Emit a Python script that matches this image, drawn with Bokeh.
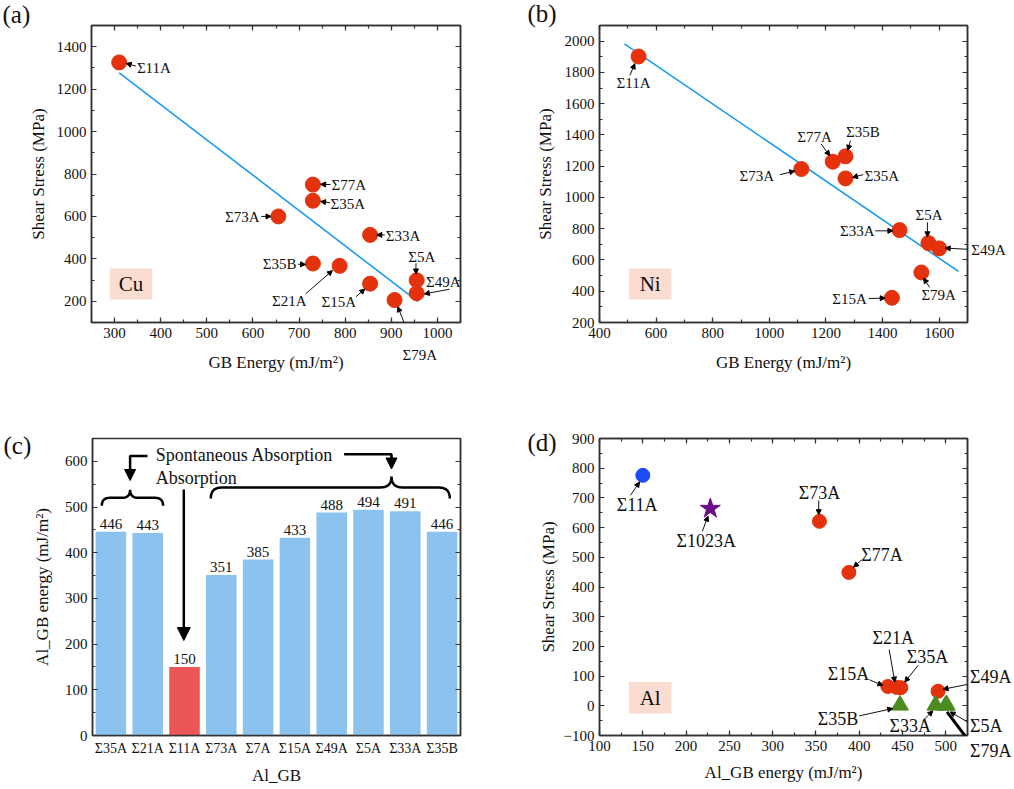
import numpy as np
from bokeh.plotting import figure
from bokeh.layouts import row, column
from bokeh.models import (Range1d, FactorRange, LinearAxis, SingleIntervalTicker,
                          Label, Arrow, NormalHead, BoxAnnotation)
from bokeh.core.properties import value
from bokeh.embed import file_html
from bokeh.resources import INLINE

# ---------------- data ----------------
# (a) Cu
cu_names = ["Σ11A", "Σ77A", "Σ35A", "Σ73A", "Σ33A", "Σ35B", "Σ21A", "Σ15A", "Σ5A", "Σ49A", "Σ79A"]
cu_energy = [310, 730, 730, 655, 854, 730, 788, 854, 955, 955, 907]
cu_stress = [1326, 750, 674, 600, 513, 378, 367, 283, 299, 238, 206]
cu_fit_energy = [310, 958]
cu_fit_stress = [1277, 198]

# (b) Ni
ni_names = ["Σ11A", "Σ73A", "Σ77A", "Σ35B", "Σ35A", "Σ33A", "Σ5A", "Σ49A", "Σ79A", "Σ15A"]
ni_energy = [538, 1113, 1224, 1269, 1269, 1460, 1562, 1600, 1537, 1433]
ni_stress = [1902, 1182, 1229, 1263, 1122, 791, 708, 674, 520, 358]
ni_fit_energy = [488, 1668]
ni_fit_stress = [1983, 527]

# (c) Al GB energy
al_gb = ["Σ35A", "Σ21A", "Σ11A", "Σ73A", "Σ7A", "Σ15A", "Σ49A", "Σ5A", "Σ33A", "Σ35B"]
al_gb_energy = [446, 443, 150, 351, 385, 433, 488, 494, 491, 446]
al_gb_kind = ["spont", "spont", "abs", "spont", "spont", "spont", "spont", "spont", "spont", "spont"]

# (d) Al shear stress
al_blue_names = ["Σ11A"]
al_blue_energy = [150]
al_blue_stress = [776]
al_star_names = ["Σ1023A"]
al_star_energy = [228]
al_star_stress = [664]
al_circle_names = ["Σ73A", "Σ77A", "Σ15A", "Σ21A", "Σ35A", "Σ49A"]
al_circle_energy = [354, 388, 433, 443, 448, 491]
al_circle_stress = [621, 449, 65, 62, 61, 49]
al_tri_names = ["Σ35B", "Σ33A", "Σ5A", "Σ79A"]
al_tri_energy = [447, 488, 500, 501]
al_tri_stress = [2, 2, 2, 2]

# ---------------- style ----------------
FONT = "Liberation Serif"
FRAME = "#333333"
RED = "#E4320C"
FIT = "#1A9AF0"
BAR_BLUE = "#8BC3EE"
BAR_RED = "#EC5656"
PEACH = "#FADDD0"
GREEN = "#4B8B1F"
BLUE = "#1F4BF5"
PURPLE = "#6B0E8A"

# label layout: name -> (text dx, text dy, align, arrow start dx, dy, arrow end dx, dy)  [screen px, y down]
off_a = {
    "Σ11A": (17.7, 5.3, "left", 16.7, 3.7, 7, 1),
    "Σ77A": (18.7, 0, "left", 17.7, 0, 7.7, -0.3),
    "Σ35A": (17.7, 3.7, "left", 17, 2, 7.7, 0.7),
    "Σ73A": (-18.7, 0.7, "right", -17, 0, -7.3, 0),
    "Σ33A": (15.7, 1, "left", 14.7, 0, 6.7, 0),
    "Σ35B": (-16.3, 0.7, "right", -14.7, 0.7, -7.3, 1),
    "Σ21A": (-33, 34.7, "right", -34, 28, -7.3, 4.7),
    "Σ15A": (-14, 18.7, "right", -14, 13, -5.3, 5.3),
    "Σ5A": (5, -23, "center", -0.7, -17, -0.7, -6.3),
    "Σ49A": (9.3, -11, "left", 32.7, -4, 7.7, 0.7),
    "Σ79A": (25.3, 55, "center", 19.3, 47.3, 3.3, 6.7),
}
off_b = {
    "Σ11A": (-5, 26.3, "center", -8.7, 19, -3.7, 7.3),
    "Σ73A": (-27.3, 7.3, "right", -21.3, 5.7, -6.7, 2),
    "Σ77A": (-18.3, -25, "center", -11.7, -17.7, -3, -6),
    "Σ35B": (17.3, -24.7, "center", 5, -15.7, 2.3, -6),
    "Σ35A": (19, -2.7, "left", 17.7, -3.7, 7, -1),
    "Σ33A": (-25, 0.7, "right", -24.3, 0.7, -6.7, 0.7),
    "Σ5A": (0.7, -28.3, "center", -1, -20.7, -1, -6.3),
    "Σ49A": (32, 1.7, "left", 31, 1, 6, -0.3),
    "Σ79A": (17.3, 23, "center", 8.3, 15, 2.3, 5.7),
    "Σ15A": (-25, 1.3, "right", -23.3, 0.7, -6.7, 0.3),
}
off_d = {
    "Σ11A": (-5.7, 29.3, "center", -12.3, 20, -3.3, 6.7),
    "Σ1023A": (-4, 32.7, "center", -8, 22.7, -2.3, 7.5),
    "Σ73A": (0, -28.7, "center", -0.7, -21, -0.7, -6.7),
    "Σ77A": (12.3, -17, "left", 13, -12.7, 4.7, -5.3),
    "Σ21A": (-3.3, -49.3, "center", -7.3, -37.7, -1.7, -5.3),
    "Σ35A": (26.7, -30.7, "center", 17.3, -22.3, 4, -5.7),
    "Σ15A": (-39.3, -12.7, "center", -18.3, -6.7, -5, -1),
    "Σ49A": (31.7, -10.7, "left", 31.7, -7.3, 5, -2),
    "Σ35B": (-41.7, 14, "right", -40.7, 10.7, -7.3, 3.3),
    "Σ33A": (-25.3, 20.7, "center", -12.7, 15.7, -2.7, 5.7),
    "Σ5A": (24.3, 20.7, "left", 22.7, 17.3, 4.3, 6.7),
    "Σ79A": (23.7, 44, "left", 20.3, 33.3, 0.3, 6.7),
}
# labels lying outside the plot frame are hosted by a side panel so they are not clipped
side_a = {"Σ79A": "below"}
side_b = {"Σ49A": "right"}
# in (d) the three labels right of the frame share one stacked text block
d_right_stack = ["Σ49A", "", "Σ5A", "Σ79A"]


def style_axis(ax, tick_size="15px", label_size="17px", standoff=6):
    ax.axis_line_color = FRAME
    ax.axis_line_width = 1.5
    ax.major_tick_in = 5
    ax.major_tick_out = 0
    ax.minor_tick_in = 3
    ax.minor_tick_out = 0
    ax.major_tick_line_color = FRAME
    ax.minor_tick_line_color = FRAME
    ax.major_tick_line_width = 1.2
    ax.minor_tick_line_width = 1.2
    ax.major_label_text_font = FONT
    ax.major_label_text_font_size = tick_size
    ax.major_label_text_color = "#111111"
    ax.axis_label_text_font = FONT
    ax.axis_label_text_font_style = "normal"
    ax.axis_label_text_font_size = label_size
    ax.axis_label_text_color = "#111111"
    ax.axis_label_standoff = standoff


def mirror(p, ticker, side):
    ax = LinearAxis(ticker=ticker)
    style_axis(ax)
    ax.major_label_text_font_size = "1px"
    ax.major_label_text_color = None
    ax.major_label_standoff = 0
    p.add_layout(ax, side)


def make_fig(xr, yr, fw, fh, borders, xtick, ytick, xlabel, ylabel, xstand, ystand):
    l, r, t, b = borders
    p = figure(x_range=Range1d(*xr), y_range=Range1d(*yr), frame_width=fw, frame_height=fh,
               min_border_left=l, min_border_right=r, min_border_top=t, min_border_bottom=b,
               output_backend="svg", toolbar_location=None)
    p.xgrid.visible = False
    p.ygrid.visible = False
    p.outline_line_color = FRAME
    p.outline_line_width = 1.5
    p.background_fill_color = "white"
    p.border_fill_color = "white"
    p.xaxis.ticker = SingleIntervalTicker(interval=xtick[0], num_minor_ticks=xtick[1])
    p.yaxis.ticker = SingleIntervalTicker(interval=ytick[0], num_minor_ticks=ytick[1])
    p.xaxis.axis_label = xlabel
    p.yaxis.axis_label = ylabel
    style_axis(p.xaxis[0], standoff=xstand)
    style_axis(p.yaxis[0], standoff=ystand)
    mirror(p, SingleIntervalTicker(interval=xtick[0], num_minor_ticks=xtick[1]), "above")
    mirror(p, SingleIntervalTicker(interval=ytick[0], num_minor_ticks=ytick[1]), "right")
    return p


class Frame:
    def __init__(self, xr, yr, fw, fh):
        self.xr, self.yr, self.fw, self.fh = xr, yr, fw, fh

    def X(self, px):
        return self.xr[0] + px * (self.xr[1] - self.xr[0]) / self.fw

    def Y(self, py):
        return self.yr[1] - py * (self.yr[1] - self.yr[0]) / self.fh

    def dx(self, d):
        return d * (self.xr[1] - self.xr[0]) / self.fw

    def dy(self, d):
        return -d * (self.yr[1] - self.yr[0]) / self.fh


def put(p, obj, side=None):
    if side is None:
        p.add_layout(obj)
    else:
        p.add_layout(obj, side)


def annotate(p, fr, names, xs, ys, offs, size, sides=None, thick=(), skip=()):
    sides = sides or {}
    for n, x, y in zip(names, xs, ys):
        tdx, tdy, al, a0x, a0y, a1x, a1y = offs[n]
        if n not in skip:
            put(p, Label(x=x + fr.dx(tdx), y=y + fr.dy(tdy), text=n, text_align=al,
                         text_baseline="middle", text_font=FONT, text_font_size=size,
                         text_color="#111111"), sides.get(n))
        if n in thick:
            p.add_layout(Arrow(end=None, x_start=x + fr.dx(a1x), y_start=y + fr.dy(a1y),
                               x_end=x + fr.dx(a0x), y_end=y + fr.dy(a0y),
                               line_width=3, line_color="black"))
        else:
            p.add_layout(Arrow(end=NormalHead(size=5, fill_color="black", line_color="black", line_width=1),
                               x_start=x + fr.dx(a0x), y_start=y + fr.dy(a0y),
                               x_end=x + fr.dx(a1x), y_end=y + fr.dy(a1y),
                               line_width=1, line_color="#111111"))


def tag_box(p, fr, box, text):
    x0, x1, y0, y1 = box
    p.add_layout(BoxAnnotation(left=fr.X(x0), right=fr.X(x1), top=fr.Y(y0), bottom=fr.Y(y1),
                               fill_color=PEACH, fill_alpha=1, line_alpha=0, level="underlay"))
    p.add_layout(Label(x=fr.X((x0 + x1) / 2), y=fr.Y((y0 + y1) / 2), text=text, text_align="center",
                       text_baseline="middle", text_font=FONT, text_font_size="21px", text_color="#111111"))


def panel_letter(p, fr, px, py, text, side):
    put(p, Label(x=fr.X(px), y=fr.Y(py), text=text, text_align="left", text_baseline="middle",
                 text_font=FONT, text_font_size="25px", text_color="#111111"), side)


# ---------------- (a) Cu ----------------
xr_a, yr_a, fw_a, fh_a = (250, 1050), (100, 1500), 369, 297
fa = Frame(xr_a, yr_a, fw_a, fh_a)
pa = make_fig(xr_a, yr_a, fw_a, fh_a, (91, 43, 25, 78), (100, 2), (200, 2),
              "GB Energy (mJ/m²)", "Shear Stress (MPa)", 12, 6)
tag_box(pa, fa, (18.3, 60.7, 243, 274), "Cu")
pa.line(cu_fit_energy, cu_fit_stress, line_color=FIT, line_width=1.6)
pa.scatter(cu_energy, cu_stress, size=15, fill_color=RED, line_color=RED, marker="circle")
annotate(pa, fa, cu_names, cu_energy, cu_stress, off_a, "15px", side_a)
panel_letter(pa, fa, -89, -11, "(a)", "right")

# ---------------- (b) Ni ----------------
xr_b, yr_b, fw_b, fh_b = (400, 1700), (200, 2100), 368, 297
fb = Frame(xr_b, yr_b, fw_b, fh_b)
pb = make_fig(xr_b, yr_b, fw_b, fh_b, (96, 44, 25, 78), (200, 2), (200, 2),
              "GB Energy (mJ/m²)", "Shear Stress (MPa)", 12, 7)
tag_box(pb, fb, (29.3, 72, 243, 274), "Ni")
pb.line(ni_fit_energy, ni_fit_stress, line_color=FIT, line_width=1.6)
pb.scatter(ni_energy, ni_stress, size=15, fill_color=RED, line_color=RED, marker="circle")
annotate(pb, fb, ni_names, ni_energy, ni_stress, off_b, "15px", side_b)
panel_letter(pb, fb, -72, -12, "(b)", "left")

# ---------------- (c) Al GB energy bars ----------------
fw_c, fh_c = 368, 297
yr_c = (0, 650)
fc = Frame((0, len(al_gb)), yr_c, fw_c, fh_c)
pc = figure(x_range=FactorRange(factors=al_gb, range_padding=0), y_range=Range1d(*yr_c),
            frame_width=fw_c, frame_height=fh_c,
            min_border_left=92, min_border_right=47, min_border_top=38, min_border_bottom=52,
            output_backend="svg", toolbar_location=None)
pc.xgrid.visible = False
pc.ygrid.visible = False
pc.outline_line_color = FRAME
pc.outline_line_width = 1.5
pc.yaxis.ticker = SingleIntervalTicker(interval=100, num_minor_ticks=2)
pc.yaxis.axis_label = "Al_GB energy (mJ/m²)"
pc.xaxis.axis_label = "Al_GB"
style_axis(pc.yaxis[0], standoff=10)
style_axis(pc.xaxis[0], tick_size="14px", standoff=7)
pc.xaxis[0].major_tick_in = 0
pc.xaxis[0].minor_tick_in = 0
mirror(pc, SingleIntervalTicker(interval=100, num_minor_ticks=2), "right")
bar_colors = [BAR_RED if k == "abs" else BAR_BLUE for k in al_gb_kind]
pc.vbar(x=al_gb, top=al_gb_energy, width=0.83, fill_color=bar_colors, line_color=None)
pc.text(x=al_gb, y=al_gb_energy, text=[str(v) for v in al_gb_energy], text_font=value(FONT),
        text_font_size="15px", text_align="center", text_baseline="bottom", y_offset=-3,
        text_color="#111111")


def brace(x0, x1, xm, yl, h):
    def qb(p0, p1, p2, n=10):
        t = np.linspace(0, 1, n)[:, None]
        return (1 - t) ** 2 * np.array(p0) + 2 * (1 - t) * t * np.array(p1) + t ** 2 * np.array(p2)
    return np.vstack([
        qb((x0, yl + h), (x0, yl), (x0 + h, yl)),
        qb((xm - h, yl), (xm, yl), (xm, yl - h)),
        qb((xm, yl - h), (xm, yl), (xm + h, yl)),
        qb((x1 - h, yl), (x1, yl), (x1, yl + h)),
    ])


for (bx0, bx1, bxm, byl, bh) in [(9.3, 70.6, 37.6, 59.3, 8), (118.3, 357.3, 299, 49, 11)]:
    pts = brace(bx0, bx1, bxm, byl, bh)
    pc.line([fc.X(v) for v in pts[:, 0]], [fc.Y(v) for v in pts[:, 1]], line_color="black", line_width=2.5)

pc.line([fc.X(55), fc.X(37.6), fc.X(37.6)], [fc.Y(17.4), fc.Y(17.4), fc.Y(32)], line_color="black", line_width=2.5)
pc.add_layout(Arrow(end=NormalHead(size=11, fill_color="black", line_color="black"),
                    x_start=fc.X(37.6), y_start=fc.Y(30), x_end=fc.X(37.6), y_end=fc.Y(42),
                    line_width=2.5, line_color="black"))
pc.line([fc.X(251.6), fc.X(299), fc.X(299)], [fc.Y(15.7), fc.Y(15.7), fc.Y(20)], line_color="black", line_width=2.5)
pc.add_layout(Arrow(end=NormalHead(size=11, fill_color="black", line_color="black"),
                    x_start=fc.X(299), y_start=fc.Y(18), x_end=fc.X(299), y_end=fc.Y(30.5),
                    line_width=2.5, line_color="black"))
pc.add_layout(Arrow(end=NormalHead(size=13, fill_color="black", line_color="black"),
                    x_start=fc.X(91.3), y_start=fc.Y(51), x_end=fc.X(91.3), y_end=fc.Y(202),
                    line_width=2.5, line_color="black"))
pc.add_layout(Label(x=fc.X(63.3), y=fc.Y(16.7), text="Spontaneous Absorption", text_align="left",
                    text_baseline="middle", text_font=FONT, text_font_size="18px", text_color="#111111"))
pc.add_layout(Label(x=fc.X(63.3), y=fc.Y(39), text="Absorption", text_align="left",
                    text_baseline="middle", text_font=FONT, text_font_size="18px", text_color="#111111"))
panel_letter(pc, fc, -89, 6.7, "(c)", "right")

# ---------------- (d) Al shear stress ----------------
xr_d, yr_d, fw_d, fh_d = (100, 525), (-100, 900), 368, 297
fd = Frame(xr_d, yr_d, fw_d, fh_d)
pd_ = make_fig(xr_d, yr_d, fw_d, fh_d, (92, 46, 38, 52), (50, 2), (100, 2),
               "Al_GB energy (mJ/m²)", "Shear Stress (MPa)", 9, 3)
tag_box(pd_, fd, (29.3, 72, 243.4, 275), "Al")
pd_.scatter(al_blue_energy, al_blue_stress, size=14, fill_color=BLUE, line_color=BLUE, marker="circle")
pd_.scatter(al_star_energy, al_star_stress, size=21, fill_color=PURPLE, line_color=PURPLE, marker="star")
pd_.scatter(al_circle_energy, al_circle_stress, size=14, fill_color=RED, line_color=RED, marker="circle")
pd_.scatter(al_tri_energy, al_tri_stress, size=17, fill_color=GREEN, line_color=GREEN, marker="triangle")
annotate(pd_, fd, al_blue_names, al_blue_energy, al_blue_stress, off_d, "18px")
annotate(pd_, fd, al_star_names, al_star_energy, al_star_stress, off_d, "18px")
annotate(pd_, fd, al_circle_names, al_circle_energy, al_circle_stress, off_d, "18px", skip=d_right_stack)
annotate(pd_, fd, al_tri_names, al_tri_energy, al_tri_stress, off_d, "18px", thick=("Σ79A",), skip=d_right_stack)
pd_.add_layout(Label(x=fd.X(370.5), y=fd.Y(275.2), text="\n".join(d_right_stack), text_align="left",
                     text_baseline="middle", text_line_height=1.24, text_font=FONT, text_font_size="18px",
                     text_color="#111111"), "right")
panel_letter(pd_, fd, -72, 4.4, "(d)", "above")

layout = column(row(pa, pb), row(pc, pd_))
open("out.html", "w").write(file_html(layout, INLINE))
